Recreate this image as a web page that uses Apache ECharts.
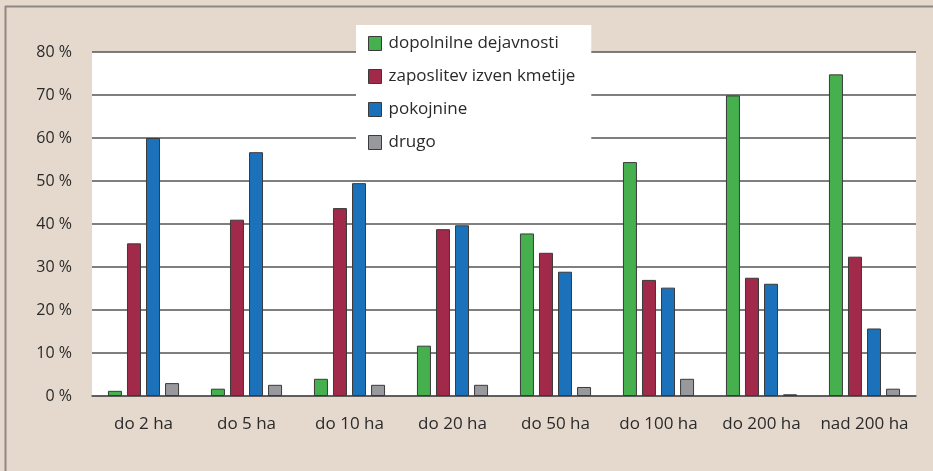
<!DOCTYPE html>
<html>
<head>
<meta charset="utf-8">
<script src="https://cdn.jsdelivr.net/npm/echarts@6/dist/echarts.min.js"></script>
<style>
html, body { margin: 0; padding: 0; background: #e5d9cd; }
#chart { width: 933px; height: 471px; }
</style>
</head>
<body>
<div id="chart"></div>
<script>
var categories = ['do 2 ha', 'do 5 ha', 'do 10 ha', 'do 20 ha', 'do 50 ha', 'do 100 ha', 'do 200 ha', 'nad 200 ha'];
var seriesNames = ['dopolnilne dejavnosti', 'zaposlitev izven kmetije', 'pokojnine', 'drugo'];
var dopolnilne = [1.2, 1.7, 4.0, 11.7, 37.8, 54.4, 69.9, 74.8];
var zaposlitev = [35.5, 41.0, 43.7, 38.8, 33.3, 27.0, 27.5, 32.4];
var pokojnine = [60.0, 56.7, 49.5, 39.7, 28.9, 25.2, 26.1, 15.7];
var drugo = [3.0, 2.6, 2.6, 2.6, 2.1, 4.0, 0.4, 1.7];
var colors = ['#46b04f', '#a1294a', '#1b72bb', '#98999d'];

(function() {
    var chart = echarts.init(document.getElementById('chart'));
    var values = [dopolnilne, zaposlitev, pokojnine, drugo];
    var font = 'Open Sans';

    var series = [];
    for (var i = 0; i < values.length; i++) {
        series.push({
            name: seriesNames[i],
            type: 'bar',
            data: values[i],
            barWidth: 14,
            barGap: '36%',
            itemStyle: { color: colors[i], borderColor: '#3a3a3a', borderWidth: 1 },
            emphasis: { disabled: true }
        });
    }

    var option = {
        backgroundColor: '#e5d9cd',
        animation: false,
        grid: { left: 92, right: 17, top: 52, bottom: 75, show: true, backgroundColor: '#ffffff', borderWidth: 0 },
        graphic: [
            { type: 'line', shape: { x1: 5, y1: 6.5, x2: 933, y2: 6.5 }, style: { stroke: '#8d8883', lineWidth: 2 } },
            { type: 'line', shape: { x1: 5.5, y1: 6, x2: 5.5, y2: 471 }, style: { stroke: '#8d8883', lineWidth: 2 } }
        ],
        legend: {
            orient: 'vertical',
            left: 356,
            top: 25,
            padding: [10, 16, 26, 12],
            backgroundColor: '#ffffff',
            itemWidth: 13,
            itemHeight: 14,
            itemGap: 16,
            icon: 'rect',
            itemStyle: { borderColor: '#3a3a3a', borderWidth: 1 },
            textStyle: { fontFamily: font, fontSize: 17, color: '#2a2a2a', padding: [0, 0, 0, 2] },
            data: seriesNames
        },
        xAxis: {
            type: 'category',
            data: categories,
            axisLine: { lineStyle: { color: '#555555', width: 1.5 } },
            axisTick: { show: false },
            axisLabel: { interval: 0, fontFamily: font, fontSize: 17, color: '#2a2a2a', margin: 20 }
        },
        yAxis: {
            type: 'value',
            min: 0,
            max: 80,
            interval: 10,
            axisLine: { show: false },
            axisTick: { show: false },
            splitLine: { lineStyle: { color: '#555555', width: 1.5 } },
            axisLabel: { fontFamily: font, fontSize: 16, color: '#2a2a2a', margin: 20, formatter: '{value} %' }
        },
        series: series
    };
    chart.setOption(option);
})();
</script>
</body>
</html>
